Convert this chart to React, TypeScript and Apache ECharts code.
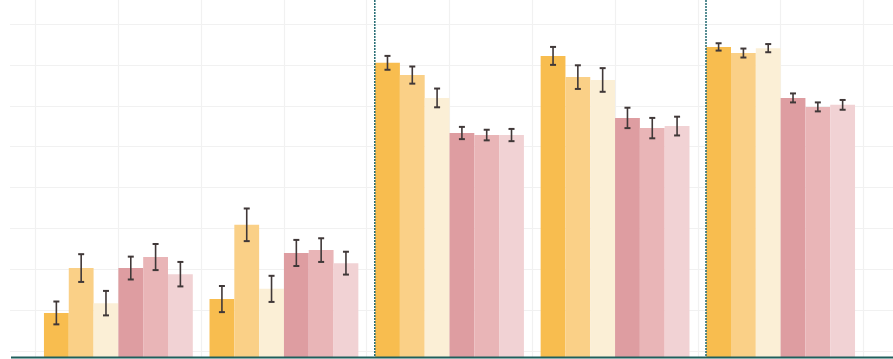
import React, { useEffect, useRef } from "react";
import * as echarts from "echarts";

const categories = ["G1", "G2", "G3", "G4", "G5"];
const seriesNames = ["S1", "S2", "S3", "S4", "S5", "S6"];
const colors = ["#F8BD4F", "#FAD087", "#FBEFD6", "#DE9DA1", "#E9B5B7", "#F1D2D4"];

// mean values per series (index = category)
const s1 = [1.08, 1.42, 7.21, 7.38, 7.6];
const s2 = [2.18, 3.24, 6.91, 6.86, 7.45];
const s3 = [1.32, 1.67, 6.35, 6.79, 7.57];
const s4 = [2.18, 2.55, 5.49, 5.86, 6.35];
const s5 = [2.45, 2.62, 5.44, 5.61, 6.13];
const s6 = [2.03, 2.3, 5.44, 5.66, 6.18];
// error half-widths
const e1 = [0.28, 0.32, 0.17, 0.22, 0.09];
const e2 = [0.34, 0.4, 0.21, 0.29, 0.11];
const e3 = [0.3, 0.32, 0.23, 0.29, 0.1];
const e4 = [0.28, 0.32, 0.15, 0.25, 0.11];
const e5 = [0.32, 0.29, 0.13, 0.25, 0.11];
const e6 = [0.3, 0.28, 0.15, 0.23, 0.12];

const values = [s1, s2, s3, s4, s5, s6];
const errors = [e1, e2, e3, e4, e5, e6];

const CAT_GAP = 0.101;

export default function App() {
  const ref = useRef<HTMLDivElement>(null);
  useEffect(() => {
    if (!ref.current) return;
    const chart = echarts.init(ref.current, null, { renderer: "svg" });
    const errData: number[][] = [];
    values.forEach((arr, j) => {
      arr.forEach((v, i) => {
        errData.push([i, v - errors[j][i], v + errors[j][i], j]);
      });
    });
    const left = 35.6;
    const right = 29.6;
    const gridColor = "#f1f1f1";
    const option: any = {
      animation: false,
      backgroundColor: "#ffffff",
      grid: [
        { left, right, top: 0, bottom: 2 },
        { left: 10, right: 0, top: 24, bottom: 8 },
        { left, right, top: 0, bottom: 2 },
      ],
      xAxis: [
        {
          type: "category",
          gridIndex: 0,
          data: categories,
          axisLine: { show: false },
          axisTick: { show: false },
          axisLabel: { show: false },
          splitLine: { show: false },
        },
        {
          type: "value",
          gridIndex: 1,
          min: 0,
          max: 1,
          show: false,
        },
        {
          type: "value",
          gridIndex: 2,
          min: 0,
          max: 10,
          interval: 1,
          axisLine: { show: false },
          axisTick: { show: false },
          axisLabel: { show: false },
          splitLine: { show: true, lineStyle: { color: gridColor, width: 1.2 } },
        },
      ],
      yAxis: [
        { type: "value", gridIndex: 0, min: 0, max: 8.75, show: false },
        {
          type: "value",
          gridIndex: 1,
          min: 0,
          max: 8,
          interval: 1,
          axisLine: { show: false },
          axisTick: { show: false },
          axisLabel: { show: false },
          splitLine: { show: true, lineStyle: { color: gridColor, width: 1.2 } },
        },
        { type: "value", gridIndex: 2, min: 0, max: 1, show: false },
      ],
      series: [
        ...values.map((arr, j) => ({
          name: seriesNames[j],
          type: "bar",
          xAxisIndex: 0,
          yAxisIndex: 0,
          data: arr,
          barGap: "0%",
          barCategoryGap: CAT_GAP * 100 + "%",
          itemStyle: { color: colors[j] },
          z: 2,
        })),
        {
          type: "custom",
          xAxisIndex: 0,
          yAxisIndex: 0,
          data: errData,
          encode: { x: 0, y: [1, 2] },
          z: 5,
          renderItem: (params: any, api: any) => {
            const cat = api.value(0);
            const lo = api.value(1);
            const hi = api.value(2);
            const j = api.value(3);
            const p1 = api.coord([cat, lo]);
            const p2 = api.coord([cat, hi]);
            const band = api.size([1, 0])[0];
            const bw = (band * (1 - CAT_GAP)) / 6;
            const cx = p1[0] + (j - 2.5) * bw;
            const cap = 3;
            const st = { stroke: "#403838", lineWidth: 1.6 };
            return {
              type: "group",
              children: [
                { type: "line", shape: { x1: cx, y1: p1[1], x2: cx, y2: p2[1] }, style: st },
                { type: "line", shape: { x1: cx - cap, y1: p1[1], x2: cx + cap, y2: p1[1] }, style: { ...st, lineWidth: 2 } },
                { type: "line", shape: { x1: cx - cap, y1: p2[1], x2: cx + cap, y2: p2[1] }, style: { ...st, lineWidth: 2 } },
              ],
            };
          },
        },
      ],
      graphic: [
        {
          type: "line",
          z: 100,
          shape: { x1: 11, y1: 357.5, x2: 893, y2: 357.5 },
          style: { stroke: "#1f5f5c", lineWidth: 2 },
        },
        {
          type: "line",
          z: 100,
          shape: { x1: 374.8, y1: 0, x2: 374.8, y2: 357 },
          style: { stroke: "#226a72", lineWidth: 1.5, lineDash: [2, 1] },
        },
        {
          type: "line",
          z: 100,
          shape: { x1: 706, y1: 0, x2: 706, y2: 357 },
          style: { stroke: "#226a72", lineWidth: 1.5, lineDash: [2, 1] },
        },
      ],
    };
    chart.setOption(option);
    return () => chart.dispose();
  }, []);
  return (
    <div
      ref={ref}
      style={{ position: "absolute", left: 0, top: 0, width: 893, height: 359 }}
    />
  );
}
